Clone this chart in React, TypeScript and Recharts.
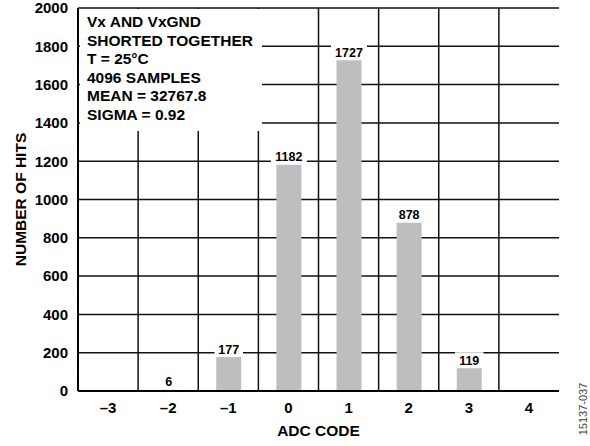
import { BarChart, Bar, XAxis, YAxis, CartesianGrid, LabelList, Label } from 'recharts'

const codes = ['–3', '–2', '–1', '0', '1', '2', '3', '4']
const hits = [0, 6, 177, 1182, 1727, 878, 119, 1]
const hitLabels = ['', '6', '177', '1182', '1727', '878', '119', '']
const yTicks = [0, 200, 400, 600, 800, 1000, 1200, 1400, 1600, 1800, 2000]
const notes = ['Vx AND VxGND', 'SHORTED TOGETHER', 'T = 25°C', '4096 SAMPLES', 'MEAN = 32767.8', 'SIGMA = 0.92']

const data = codes.map((code, i) => ({ code, hits: hits[i], label: hitLabels[i] }))

const FONT = 'Arial, "Liberation Sans", Helvetica, sans-serif'
const frame = { stroke: '#000', strokeWidth: 2 }

function BarValue(props: any) {
  const { x, y, width, value } = props
  const text = value ? String(value) : ''
  if (!text) return null
  const cx = x + width / 2
  const w = text.length * 7.5 + 6
  return (
    <g>
      <rect x={cx - w / 2} y={y - 16} width={w} height={15} fill="#fff" />
      <text x={cx} y={y - 3.5} textAnchor="middle" fontSize={12.5} fontWeight="bold" fontFamily={FONT} fill="#000">
        {text}
      </text>
    </g>
  )
}

export default function App() {
  return (
    <div style={{ position: 'absolute', left: 0, top: 0, width: 590, height: 446, background: '#fff', fontFamily: FONT }}>
      <BarChart width={590} height={446} data={data} margin={{ top: 8, right: 31, bottom: 5, left: 18 }} barSize={25}>
        <CartesianGrid
          stroke="#111"
          strokeWidth={1.5}
          verticalCoordinatesGenerator={({ offset }: any) =>
            codes.slice(1).map((_, i) => offset.left + ((i + 1) * offset.width) / codes.length)
          }
        />
        <XAxis
          dataKey="code"
          height={50}
          axisLine={frame}
          tickLine={false}
          tickSize={0}
          tickMargin={11}
          tick={{ fontSize: 15, fontWeight: 'bold', fill: '#000', fontFamily: FONT }}
        >
          <Label
            content={({ viewBox }: any) => (
              <text x={viewBox.x + viewBox.width / 2} y={viewBox.y + 44.5} textAnchor="middle" fontSize={15.5} fontWeight="bold" fontFamily={FONT} fill="#000">
                ADC CODE
              </text>
            )}
          />
        </XAxis>
        <XAxis xAxisId="top" dataKey="code" orientation="top" height={0} axisLine={frame} tick={false} tickLine={false} />
        <YAxis
          width={60}
          domain={[0, 2000]}
          ticks={yTicks}
          interval={0}
          axisLine={frame}
          tickLine={false}
          tickSize={0}
          tickMargin={10}
          tick={{ fontSize: 15, fontWeight: 'bold', fill: '#000', fontFamily: FONT }}
        >
          <Label
            content={({ viewBox }: any) => {
              const cx = viewBox.x + 7.5
              const cy = viewBox.y + viewBox.height / 2
              return (
                <text x={cx} y={cy} transform={`rotate(-90 ${cx} ${cy})`} textAnchor="middle" fontSize={15.5} fontWeight="bold" fontFamily={FONT} fill="#000">
                  NUMBER OF HITS
                </text>
              )
            }}
          />
        </YAxis>
        <YAxis yAxisId="right" orientation="right" width={0} domain={[0, 2000]} axisLine={frame} tick={false} tickLine={false} />
        <Bar dataKey="hits" fill="#bcbec0" isAnimationActive={false}>
          <LabelList dataKey="label" content={BarValue} />
        </Bar>
      </BarChart>
      <div
        style={{
          position: 'absolute',
          left: 80,
          top: 9,
          width: 182,
          height: 122,
          background: '#fff',
          paddingLeft: 7,
          paddingTop: 4,
          boxSizing: 'border-box',
          fontSize: 15.5,
          fontWeight: 'bold',
          lineHeight: '18.5px',
          color: '#000',
          whiteSpace: 'nowrap',
        }}
      >
        {notes.map((n) => (
          <div key={n}>{n}</div>
        ))}
      </div>
      <div
        style={{
          position: 'absolute',
          left: 583,
          top: 409,
          transform: 'translate(-50%, -50%) rotate(-90deg)',
          fontSize: 11,
          color: '#444',
          whiteSpace: 'nowrap',
        }}
      >
        15137-037
      </div>
    </div>
  )
}
